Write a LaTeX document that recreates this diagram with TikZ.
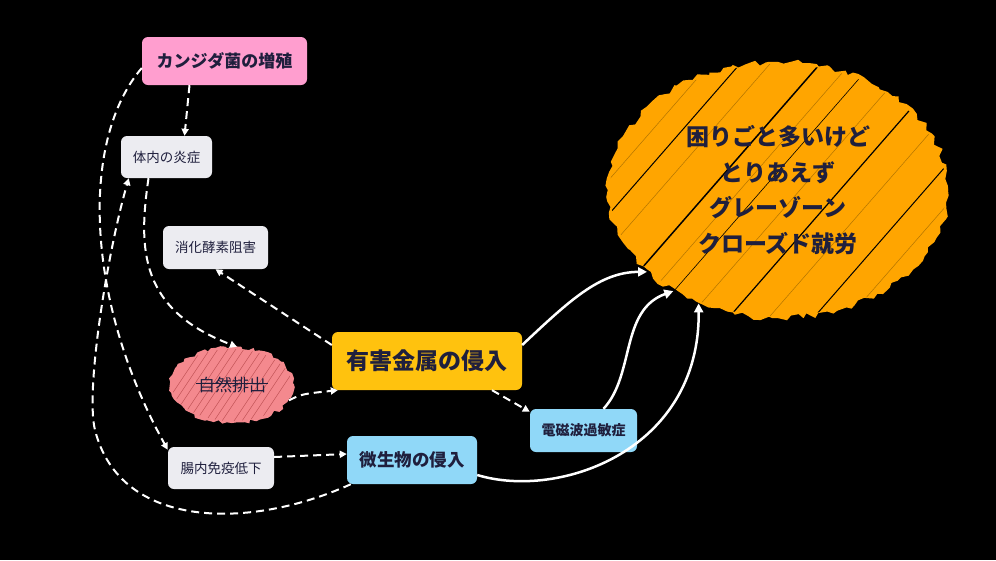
\documentclass[tikz,border=0pt]{standalone}
\usepackage{fontspec}
\newfontfamily\jp{Noto Sans CJK JP}
\usetikzlibrary{arrows.meta,decorations.pathmorphing,shapes.geometric}
\definecolor{txt}{HTML}{1F1F3D}
\definecolor{pinkbox}{HTML}{FF9ECF}
\definecolor{graybox}{HTML}{ECECF1}
\definecolor{ambox}{HTML}{FFC20E}
\definecolor{bluebox}{HTML}{90D8F8}
\definecolor{blobc}{HTML}{FFA500}
\definecolor{salmonc}{HTML}{F4898E}
\begin{document}
\begin{tikzpicture}[x=1pt,y=-1pt,
  box/.style={rounded corners=6pt, inner sep=0pt, text=txt},
  small/.style={box, fill=graybox, font=\jp\fontsize{13.5}{16}\selectfont},
  dline/.style={white, line width=2pt, dash pattern=on 8pt off 5pt, -{Triangle[length=7pt,width=7pt]}},
  sline/.style={white, line width=2.5pt, -{Triangle[length=9pt,width=9pt]}},
  hatchk/.style={black, line width=#1},
  hatcho/.style={blobc!70!black, line width=0.5pt}
]
\fill[black] (0,0) rectangle (996,560);
\useasboundingbox (0,0) rectangle (996,560);
\pgfmathsetseed{7}

% goal blob
\fill[blobc, decorate, decoration={random steps,segment length=6pt,amplitude=3pt}] (778,190) ellipse [x radius=170, y radius=128];
\begin{scope}
  \clip (778,190) ellipse [x radius=168, y radius=126];
  \foreach \o/\w in {630/1pt, 710/1.5pt, 762/0.6pt, 840/1.2pt, 925/1pt}
    \draw[hatchk=\w] (\o-150,362) -- (\o+150,18);
  \foreach \o in {600,660,740,800,880,960}
    \draw[hatcho] (\o-150,362) -- (\o+150,18);
\end{scope}
\node[ellipse, minimum width=340pt, minimum height=256pt, inner sep=0pt, align=center, text=txt,
      font=\jp\bfseries\fontsize{23}{35.5}\selectfont] (goal) at (778,190)
  {困りごと多いけど\\とりあえず\\グレーゾーン\\クローズド就労};

% natural excretion
\fill[salmonc, decorate, decoration={random steps,segment length=4pt,amplitude=2pt}] (232,385) ellipse [x radius=62, y radius=38];
\begin{scope}
  \clip (232,385) ellipse [x radius=60, y radius=36];
  \foreach \o in {178,186,194,204,212,220,230,238,246,258,266,274,284}
    \draw[red!45!black, opacity=0.5, line width=0.4pt] (\o-30,430) -- (\o+30,340);
\end{scope}
\node[ellipse, minimum width=124pt, minimum height=76pt, inner sep=0pt, text=txt,
      font=\jp\fontsize{17}{20}\selectfont] (shizen) at (232,385) {自然排出};
\draw[txt, line width=0.8pt] ([xshift=-36pt,yshift=2pt]shizen.center) -- ([xshift=36pt,yshift=2pt]shizen.center);

% boxes
\node[box, fill=pinkbox, minimum width=165pt, minimum height=48pt, font=\jp\bfseries\fontsize{17}{20}\selectfont] (kan) at (224.5,61) {カンジダ菌の増殖};
\node[small, minimum width=91pt, minimum height=42pt] (tai) at (166.5,157) {体内の炎症};
\node[small, minimum width=105pt, minimum height=43pt] (shoka) at (215.5,247.5) {消化酵素阻害};
\node[box, fill=ambox, minimum width=190pt, minimum height=58pt, font=\jp\bfseries\fontsize{23}{26}\selectfont] (yugai) at (427,361) {有害金属の侵入};
\node[small, minimum width=106pt, minimum height=42pt] (cho) at (221,468) {腸内免疫低下};
\node[box, fill=bluebox, minimum width=130pt, minimum height=48pt, font=\jp\bfseries\fontsize{17.5}{20}\selectfont] (bis) at (412,460) {微生物の侵入};
\node[box, fill=bluebox, minimum width=107pt, minimum height=43pt, font=\jp\bfseries\fontsize{14}{17}\selectfont] (den) at (583.5,430.5) {電磁波過敏症};

% dashed connectors
\draw[dline] ([xshift=-35pt]kan.south) -- ([xshift=18pt]tai.north);
\draw[dline] ([yshift=-7pt]kan.west) .. controls (80,140) and (85,300) .. ([yshift=-3pt]cho.north west);
\draw[dline] ([xshift=4pt]bis.south west) .. controls (250,530) and (120,530) .. (95,430) .. controls (85,390) and (108,250) .. ([xshift=8pt]tai.south west);
\draw[dline] ([xshift=-18pt]tai.south) .. controls (138,250) and (140,310) .. ([xshift=5pt]shizen.north);
\draw[dline] ([yshift=16pt]yugai.west) -- (shoka.south);
\draw[dline] (shizen.-15) .. controls (302,394) .. ([xshift=6pt]yugai.south west);
\draw[dline] ([xshift=65pt]yugai.south) -- ([yshift=-3pt]den.north west);
\draw[dline] ([yshift=11pt]cho.east) -- ([yshift=6pt]bis.west);

% solid connectors
\draw[sline] ([yshift=16pt]yugai.east) .. controls (570,300) and (600,272) .. (goal.212);
\draw[sline] ([xshift=20pt]den.north) .. controls (635,375) and (620,310) .. (goal.224);
\draw[sline] ([yshift=-15pt]bis.east) .. controls (560,500) and (700,450) .. (goal.235);
\end{tikzpicture}
\end{document}
